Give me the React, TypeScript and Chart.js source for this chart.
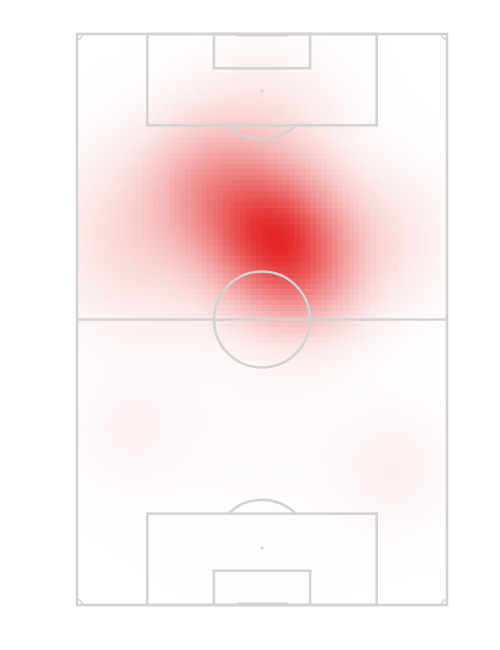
import React, { useEffect, useRef } from "react";
import { Chart, registerables } from "chart.js";
Chart.register(...registerables);

// Pitch dimensions (metres)
const PITCH_WIDTH = 68;
const PITCH_LENGTH = 105;
const GRID_COLS = 68;
const GRID_ROWS = 105;

// Activity hotspots (x across, y down the pitch, metres)
const hotspotX = [36.4, 25.0, 41.9, 11.6, 55.7, 34.6, 9.7, 58.5, 33.6];
const hotspotY = [37.3, 28.5, 45.2, 37.9, 37.9, 18.6, 72.8, 80.2, 71.0];
const hotspotWeight = [1.0, 0.4, 0.32, 0.15, 0.1, 0.1, 0.03, 0.04, 0.015];
const hotspotSpread = [8, 8, 7, 10, 8, 9, 7, 7, 15];

// Heat colour (max intensity)
const HEAT_RGB = [228, 38, 38];
const LINE_COLOR = "#d3d3d3";

function density(x: number, y: number): number {
  let v = 0;
  for (let i = 0; i < hotspotX.length; i++) {
    const dx = x - hotspotX[i];
    const dy = y - hotspotY[i];
    const s = hotspotSpread[i];
    v += hotspotWeight[i] * Math.exp(-(dx * dx + dy * dy) / (2 * s * s));
  }
  return v;
}

const heatPlugin = {
  id: "heat",
  beforeDatasetsDraw(chart: any) {
    const { ctx, scales } = chart;
    const xs = scales.x;
    const ys = scales.y;
    const cw = PITCH_WIDTH / GRID_COLS;
    const ch = PITCH_LENGTH / GRID_ROWS;
    const vals: number[] = [];
    let max = 0;
    for (let r = 0; r < GRID_ROWS; r++) {
      for (let c = 0; c < GRID_COLS; c++) {
        const v = density((c + 0.5) * cw, (r + 0.5) * ch);
        vals.push(v);
        if (v > max) max = v;
      }
    }
    ctx.save();
    for (let r = 0; r < GRID_ROWS; r++) {
      for (let c = 0; c < GRID_COLS; c++) {
        const t = Math.pow(vals[r * GRID_COLS + c] / max, 0.85);
        const x0 = xs.getPixelForValue(c * cw);
        const x1 = xs.getPixelForValue((c + 1) * cw);
        const y0 = ys.getPixelForValue(r * ch);
        const y1 = ys.getPixelForValue((r + 1) * ch);
        const R = Math.round(255 + (HEAT_RGB[0] - 255) * t);
        const G = Math.round(255 + (HEAT_RGB[1] - 255) * t);
        const B = Math.round(255 + (HEAT_RGB[2] - 255) * t);
        ctx.fillStyle = `rgb(${R},${G},${B})`;
        ctx.fillRect(Math.floor(x0), Math.floor(Math.min(y0, y1)), Math.ceil(x1 - x0) + 1, Math.ceil(Math.abs(y1 - y0)) + 1);
      }
    }
    ctx.restore();
  },
};

const pitchPlugin = {
  id: "pitch",
  afterDatasetsDraw(chart: any) {
    const { ctx, scales } = chart;
    const X = (v: number) => scales.x.getPixelForValue(v);
    const Y = (v: number) => scales.y.getPixelForValue(v);
    const kx = Math.abs(X(1) - X(0));
    ctx.save();
    ctx.strokeStyle = LINE_COLOR;
    ctx.lineWidth = 2.6;
    const rect = (x0: number, y0: number, x1: number, y1: number) => {
      ctx.strokeRect(X(x0), Y(y0), X(x1) - X(x0), Y(y1) - Y(y0));
    };
    // outline
    rect(0, 0, PITCH_WIDTH, PITCH_LENGTH);
    // halfway
    ctx.beginPath();
    ctx.moveTo(X(0), Y(PITCH_LENGTH / 2));
    ctx.lineTo(X(PITCH_WIDTH), Y(PITCH_LENGTH / 2));
    ctx.stroke();
    // centre circle
    const r = 8.82 * kx;
    ctx.beginPath();
    ctx.arc(X(PITCH_WIDTH / 2), Y(PITCH_LENGTH / 2), r, 0, Math.PI * 2);
    ctx.stroke();
    // boxes
    const paL = 0.19 * PITCH_WIDTH, paR = 0.81 * PITCH_WIDTH, paD = 0.16 * PITCH_LENGTH;
    const syL = 0.37 * PITCH_WIDTH, syR = 0.63 * PITCH_WIDTH, syD = 0.06 * PITCH_LENGTH;
    const spot = 0.1 * PITCH_LENGTH;
    rect(paL, 0, paR, paD);
    rect(paL, PITCH_LENGTH - paD, paR, PITCH_LENGTH);
    rect(syL, 0, syR, syD);
    rect(syL, PITCH_LENGTH - syD, syR, PITCH_LENGTH);
    // penalty arcs (outside the box)
    const cx = X(PITCH_WIDTH / 2);
    const dy = (paD - spot) * kx;
    const ang = Math.acos(Math.min(1, dy / r));
    ctx.beginPath();
    ctx.arc(cx, Y(spot), r, Math.PI / 2 - ang, Math.PI / 2 + ang);
    ctx.stroke();
    ctx.beginPath();
    ctx.arc(cx, Y(PITCH_LENGTH - spot), r, -Math.PI / 2 - ang, -Math.PI / 2 + ang);
    ctx.stroke();
    // penalty spots
    ctx.fillStyle = LINE_COLOR;
    [spot, PITCH_LENGTH - spot].forEach((s) => {
      ctx.beginPath();
      ctx.arc(cx, Y(s), 1.5, 0, Math.PI * 2);
      ctx.fill();
    });
    // goals
    const gL = 29.4, gR = 38.8;
    ctx.lineWidth = 2;
    ctx.beginPath();
    ctx.moveTo(X(gL), Y(0) + 1.5);
    ctx.lineTo(X(gR), Y(0) + 1.5);
    ctx.moveTo(X(gL), Y(PITCH_LENGTH) - 1.5);
    ctx.lineTo(X(gR), Y(PITCH_LENGTH) - 1.5);
    ctx.stroke();
    // corner arcs
    const cr = 1 * kx;
    ctx.lineWidth = 1.5;
    const corners: [number, number, number, number][] = [
      [0, 0, 0, Math.PI / 2],
      [PITCH_WIDTH, 0, Math.PI / 2, Math.PI],
      [0, PITCH_LENGTH, -Math.PI / 2, 0],
      [PITCH_WIDTH, PITCH_LENGTH, Math.PI, 1.5 * Math.PI],
    ];
    corners.forEach(([x, y, a0, a1]) => {
      ctx.beginPath();
      ctx.arc(X(x), Y(y), cr, a0, a1);
      ctx.stroke();
    });
    ctx.restore();
  },
};

export default function App() {
  const ref = useRef<HTMLCanvasElement>(null);
  useEffect(() => {
    if (!ref.current) return;
    const chart = new Chart(ref.current, {
      type: "scatter",
      data: { datasets: [{ data: [], pointRadius: 0 }] },
      options: {
        animation: false,
        responsive: false,
        layout: { padding: { left: 77, top: 34, right: 53, bottom: 45 } },
        plugins: { legend: { display: false }, tooltip: { enabled: false } },
        scales: {
          x: { type: "linear", min: 0, max: PITCH_WIDTH, display: false },
          y: { type: "linear", min: 0, max: PITCH_LENGTH, reverse: true, display: false },
        },
      },
      plugins: [heatPlugin, pitchPlugin],
    });
    return () => chart.destroy();
  }, []);
  return (
    <div style={{ position: "absolute", left: 0, top: 0, width: 500, height: 650, background: "#fff" }}>
      <canvas ref={ref} width={500} height={650} />
    </div>
  );
}
